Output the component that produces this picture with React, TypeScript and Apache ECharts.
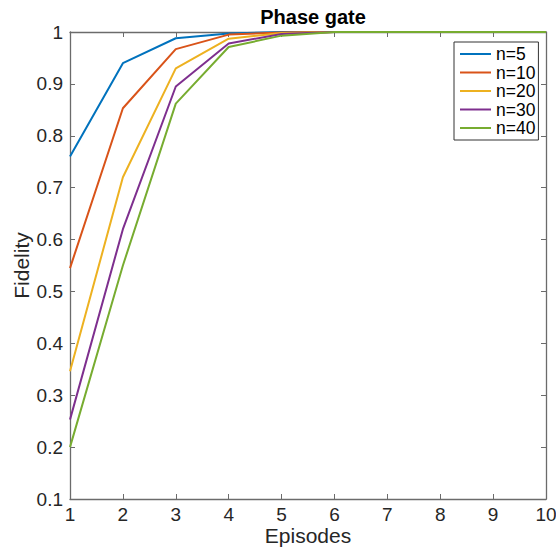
import React, { useEffect, useRef } from "react";
import * as echarts from "echarts";

const episodes = [1, 2, 3, 4, 5, 6, 7, 8, 9, 10];
const seriesNames = ["n=5", "n=10", "n=20", "n=30", "n=40"];
const n5 = [0.76, 0.94, 0.988, 0.997, 1, 1, 1, 1, 1, 1];
const n10 = [0.545, 0.853, 0.967, 0.995, 0.999, 1, 1, 1, 1, 1];
const n20 = [0.346, 0.72, 0.93, 0.987, 0.998, 1, 1, 1, 1, 1];
const n30 = [0.253, 0.62, 0.895, 0.978, 0.996, 1, 1, 1, 1, 1];
const n40 = [0.2, 0.55, 0.862, 0.971, 0.993, 1, 1, 1, 1, 1];
const colors = ["#0072BD", "#D95319", "#EDB120", "#7E2F8E", "#77AC30"];

const FONT = "Liberation Sans, Arial, Helvetica, sans-serif";
const AXIS = "#6b6b6b";

export default function App() {
  const ref = useRef<HTMLDivElement>(null);
  useEffect(() => {
    if (!ref.current) return;
    const chart = echarts.init(ref.current, undefined, { renderer: "svg" });
    const all = [n5, n10, n20, n30, n40];
    const tickCommon = {
      axisLine: { show: true, lineStyle: { color: AXIS, width: 1.3 } },
      axisTick: { show: true, inside: true, length: 5, lineStyle: { color: AXIS } },
      splitLine: { show: false },
    };
    chart.setOption({
      animation: false,
      backgroundColor: "#fff",
      title: {
        text: "Phase gate",
        left: 308,
        top: 2,
        textAlign: "center",
        textStyle: { fontFamily: FONT, fontWeight: "bold", fontSize: 20, color: "#000" },
      },
      grid: {
        left: 70,
        top: 32,
        width: 476,
        height: 467,
        containLabel: false,
        outerBoundsMode: "none",
      },
      legend: {
        data: seriesNames,
        orient: "vertical",
        left: 454,
        top: 42,
        padding: [3, 3, 3, 6],
        itemGap: 0.5,
        itemWidth: 31,
        itemHeight: 2,
        itemTextGap: 2,
        icon: "rect",
        borderColor: "#333",
        borderWidth: 1,
        backgroundColor: "#fff",
        textStyle: { fontFamily: FONT, fontSize: 17.5, lineHeight: 16.5, color: "#000" },
      },
      xAxis: [
        {
          type: "value",
          min: 1,
          max: 10,
          interval: 1,
          name: "Episodes",
          nameLocation: "middle",
          nameGap: 36,
          nameMoveOverlap: false,
          nameTextStyle: {
            fontFamily: FONT,
            fontSize: 21,
            lineHeight: 18,
            color: "#262626",
            verticalAlign: "middle",
          },
          axisLabel: {
            fontFamily: FONT,
            fontSize: 19,
            lineHeight: 18,
            color: "#262626",
            margin: 6,
          },
          ...tickCommon,
        },
        {
          type: "value",
          position: "top",
          min: 1,
          max: 10,
          interval: 1,
          axisLabel: { show: false },
          ...tickCommon,
        },
      ],
      yAxis: [
        {
          type: "value",
          min: 0.1,
          max: 1,
          interval: 0.1,
          name: "Fidelity",
          nameLocation: "middle",
          nameGap: 49,
          nameMoveOverlap: false,
          nameTextStyle: {
            fontFamily: FONT,
            fontSize: 21,
            lineHeight: 20,
            color: "#262626",
            verticalAlign: "middle",
          },
          axisLabel: {
            fontFamily: FONT,
            fontSize: 19,
            color: "#262626",
            margin: 7,
            formatter: (v: number) => String(Math.round(v * 10) / 10),
          },
          ...tickCommon,
        },
        {
          type: "value",
          position: "right",
          min: 0.1,
          max: 1,
          interval: 0.1,
          axisLabel: { show: false },
          ...tickCommon,
        },
      ],
      series: all.map((d, i) => ({
        name: seriesNames[i],
        type: "line",
        data: episodes.map((e, j) => [e, d[j]]),
        symbol: "none",
        showSymbol: false,
        lineStyle: { color: colors[i], width: 2 },
        itemStyle: { color: colors[i] },
        z: 2 + i,
      })),
    });
    return () => chart.dispose();
  }, []);
  return (
    <div
      ref={ref}
      style={{ position: "fixed", left: 0, top: 0, width: 556, height: 547 }}
    />
  );
}
